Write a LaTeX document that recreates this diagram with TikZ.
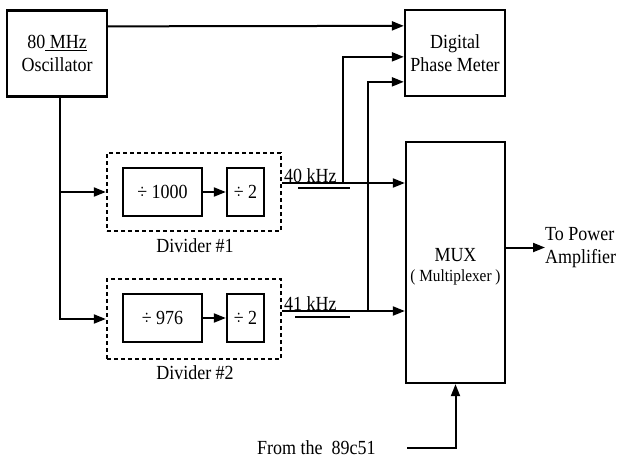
\documentclass[tikz,border=0pt]{standalone}
\usepackage{fontspec}
\setmainfont{Liberation Serif}[FakeStretch=0.9]
\usetikzlibrary{arrows.meta}
\begin{document}
\begin{tikzpicture}[x=1pt,y=-1pt,
  font=\fontsize{20}{23}\selectfont,
  blk/.style={draw,line width=2.3pt,minimum width=#1,inner sep=0pt,align=center},
  dbox/.style={draw,line width=2.4pt,dash pattern=on 4pt off 3pt,inner sep=0pt},
  arr/.style={line width=2pt,-{Triangle[length=12pt,width=9pt]}},
  tickline/.style={line width=1.4pt},
  lbl/.style={inner sep=0pt}]
\useasboundingbox (0,0) rectangle (622,464);
% blocks
\node[blk=100pt,minimum height=86pt] (osc) at (57,53.5) {80\underline{ MHz}\\Oscillator};
\node[blk=100pt,minimum height=86pt] (dpm) at (455,53) {Digital\\Phase Meter};
\node[blk=99pt,minimum height=241pt] (mux) at (455.5,262.5) {};
\node[lbl,align=center] (muxt) at (455.5,267) {MUX\\[-3pt]{\fontsize{17}{20}\selectfont( Multiplexer )}};
% divider 1
\node[dbox,minimum width=174pt,minimum height=78pt] (div1) at (194,192) {};
\node[blk=79pt,minimum height=48pt] (d1a) at (162.5,192) {÷ 1000};
\node[blk=37pt,minimum height=48pt] (d1b) at (245.5,192) {÷ 2};
\node[lbl] (div1l) at (195,246) {Divider \#1};
% divider 2
\node[dbox,minimum width=174pt,minimum height=80pt] (div2) at (194,319) {};
\node[blk=79pt,minimum height=48pt] (d2a) at (162.5,318) {÷ 976};
\node[blk=37pt,minimum height=48pt] (d2b) at (245.5,318) {÷ 2};
\node[lbl] (div2l) at (195,373) {Divider \#2};
% labels
\node[lbl,anchor=base west] (f40) at (284,182) {40 kHz};
\node[lbl,anchor=base west] (f41) at (284,310) {41 kHz};
\node[lbl,anchor=west,align=left] (pa) at (545,248) {To Power\\Amplifier};
\node[lbl,anchor=base west] (src) at (257,454) {From the\ \ 89c51};
% junction coordinates
\coordinate (o1) at ([yshift=9pt]div1.east);
\coordinate (o2) at ([yshift=8pt]div2.east);
\coordinate (j1) at (343,183);
\coordinate (j2) at (368,311);
\coordinate (s1) at (407,448);
% connectors
\draw[arr] ([yshift=-17pt]osc.north east) -- ([yshift=-17pt]dpm.north west);
\draw[arr] ([xshift=3pt]osc.south) |- (div2.west);
\draw[arr] ([xshift=3pt]osc.south |- div1.west) -- (div1.west);
\draw[arr] (d1a) -- (d1b);
\draw[arr] (d2a) -- (d2b);
\draw[arr] (o1) -- (o1 -| mux.west);
\draw[arr] (o2) -- (o2 -| mux.west);
\draw[arr] (j1) |- ([yshift=-48pt]dpm.north west);
\draw[arr] (j2) |- ([yshift=-73pt]dpm.north west);
\draw[arr] ([yshift=15pt]mux.east) -- ([yshift=15pt]mux.east -| pa.west);
\draw[arr] (s1) -| (mux.south);
% short marks under frequency labels
\draw[tickline] (298,188) -- (350,188);
\draw[tickline] (295,317) -- (350,317);
\end{tikzpicture}
\end{document}
